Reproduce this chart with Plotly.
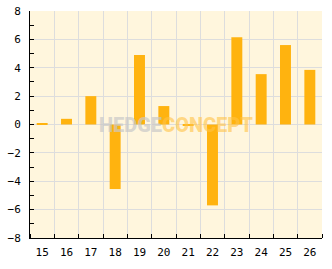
import plotly.graph_objects as go

categories = [15, 16, 17, 18, 19, 20, 21, 22, 23, 24, 25, 26]
values = [0.1, 0.4, 2.0, -4.55, 4.9, 1.3, -0.1, -5.7, 6.15, 3.55, 5.6, 3.85]
y_ticks = [-8, -6, -4, -2, 0, 2, 4, 6, 8]

boundaries = [c - 0.5 for c in categories] + [categories[-1] + 0.5]

fig = go.Figure()
fig.add_trace(go.Bar(
    x=categories, y=values, width=0.45,
    marker=dict(color="#FFB30F", line=dict(width=0)),
    hoverinfo="skip",
))

font = dict(family="DejaVu Sans Mono", size=11, color="#000000")

fig.update_layout(
    width=332, height=269,
    margin=dict(l=30, r=10, t=11, b=31),
    paper_bgcolor="#FFFFFF",
    plot_bgcolor="#FFF6DD",
    showlegend=False,
    font=font,
    xaxis=dict(
        range=[categories[0] - 0.5, categories[-1] + 0.5],
        tickvals=categories, ticktext=[str(c) for c in categories],
        showgrid=False, ticks="", zeroline=False, automargin=False,
        showline=True, linecolor="#000000", linewidth=1,
        tickfont=font, ticklabelstandoff=4,
        minor=dict(tickvals=boundaries, ticks="inside", ticklen=4,
                   tickcolor="#000000", showgrid=True, gridcolor="#DDDDDD", gridwidth=1),
    ),
    yaxis=dict(
        range=[-8, 8], tickvals=y_ticks,
        showgrid=True, gridcolor="#DDDDDD", gridwidth=1,
        zeroline=False, automargin=False,
        ticks="inside", ticklen=4, tickcolor="#000000",
        showline=True, linecolor="#000000", linewidth=1,
        tickfont=font, ticklabelstandoff=6,
        minor=dict(dtick=1, ticks="inside", ticklen=4, tickcolor="#000000", showgrid=False),
    ),
    annotations=[dict(
        x=0.5, y=0.5, xref="paper", yref="paper",
        xanchor="center", yanchor="middle", showarrow=False,
        text="<span style='color:rgba(200,200,200,0.7)'>HEDGE</span>"
             "<span style='color:rgba(255,195,70,0.6)'>CONCEPT</span>",
        font=dict(family="Roboto", size=20, weight=900),
    )],
)

fig.write_html("out.html")
